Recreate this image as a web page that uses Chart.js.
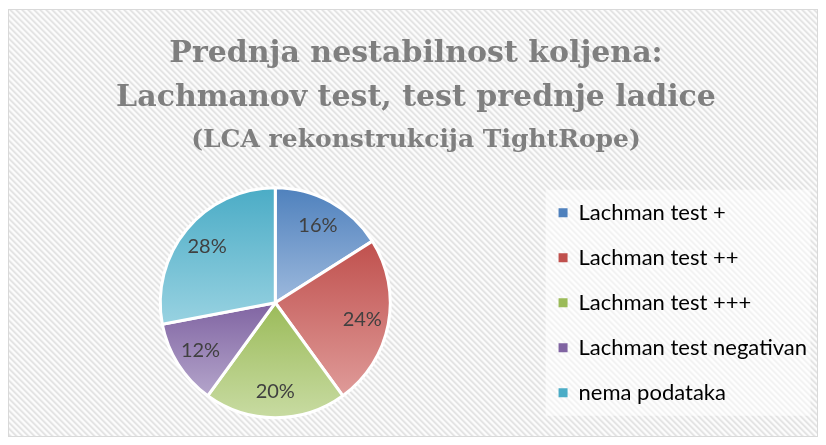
<!DOCTYPE html>
<html lang="hr">
<head>
<meta charset="UTF-8">
<title>Prednja nestabilnost koljena</title>
<script src="https://cdn.jsdelivr.net/npm/chart.js"></script>
<style>
  html, body { margin: 0; padding: 0; background: #fff; }
  .wrap { width: 826px; height: 445px; position: relative; }
</style>
</head>
<body>
<div class="wrap"><canvas id="pie"></canvas></div>
<script>
const labels = ['Lachman test +', 'Lachman test ++', 'Lachman test +++', 'Lachman test negativan', 'nema podataka'];
const percents = [16, 24, 20, 12, 28];
const titleLines = ['Prednja nestabilnost koljena:', 'Lachmanov test, test prednje ladice'];
const subtitleText = '(LCA rekonstrukcija TightRope)';

// Excel-like colours: darker at the top of a slice, lighter at the bottom
const topColors = ['#4f81bd', '#c0504d', '#9bbb59', '#8064a2', '#4bacc6'];
const bottomColors = ['#9db9dd', '#df9b99', '#c8dba2', '#b4a5cb', '#98d2e1'];

const PIE_RADIUS = 115;
const TEXT_FONT = 'Lato, "Open Sans", sans-serif';
const TITLE_FONT = '"DejaVu Serif", serif';

function sliceGradient(ctx) {
    const chart = ctx.chart;
    const area = chart.chartArea;
    const i = ctx.dataIndex;
    if (!area) return topColors[i];
    const cx = (area.left + area.right) / 2;
    const cy = (area.top + area.bottom) / 2;
    const total = percents.reduce((a, b) => a + b, 0);
    let start = 0;
    for (let k = 0; k < i; k++) start += percents[k];
    const a0 = start / total * 2 * Math.PI;
    const a1 = (start + percents[i]) / total * 2 * Math.PI;
    const ys = [cy, cy - PIE_RADIUS * Math.cos(a0), cy - PIE_RADIUS * Math.cos(a1)];
    if (a0 <= 0 || a1 >= 2 * Math.PI - 1e-6) ys.push(cy - PIE_RADIUS);
    if (a0 <= Math.PI && a1 >= Math.PI) ys.push(cy + PIE_RADIUS);
    const g = chart.ctx.createLinearGradient(0, Math.min(...ys), 0, Math.max(...ys));
    g.addColorStop(0, topColors[i]);
    g.addColorStop(1, bottomColors[i]);
    return g;
}

function makeHatch() {
    const n = 6;
    const p = document.createElement('canvas');
    p.width = n; p.height = n;
    const c = p.getContext('2d');
    const img = c.createImageData(n, n);
    const shades = [226, 231, 243, 252, 252, 240];
    for (let y = 0; y < n; y++) {
        for (let x = 0; x < n; x++) {
            const d = ((x - y) % n + n) % n;
            const o = (y * n + x) * 4;
            img.data[o] = img.data[o + 1] = img.data[o + 2] = shades[d];
            img.data[o + 3] = 255;
        }
    }
    c.putImageData(img, 0, 0);
    return p;
}

const backdrop = {
    id: 'backdrop',
    beforeDraw(chart) {
        const c = chart.ctx;
        c.save();
        c.fillStyle = '#ffffff';
        c.fillRect(0, 0, chart.width, chart.height);
        c.fillStyle = c.createPattern(makeHatch(), 'repeat');
        c.fillRect(8, 9, chart.width - 17, chart.height - 18);
        c.strokeStyle = '#d9d9d9';
        c.lineWidth = 1;
        c.strokeRect(8.5, 9.5, chart.width - 17, chart.height - 18);
        // soft white panel behind the legend
        const lg = chart.legend;
        const midY = (chart.chartArea.top + chart.chartArea.bottom) / 2;
        c.fillStyle = 'rgba(255,255,255,0.55)';
        c.fillRect(lg.left + 10, midY - 113, 265, 226);
        c.restore();
    }
};

const sliceLabels = {
    id: 'sliceLabels',
    afterDatasetsDraw(chart) {
        const c = chart.ctx;
        const meta = chart.getDatasetMeta(0);
        c.save();
        c.font = '20px ' + TEXT_FONT;
        c.fillStyle = '#404040';
        c.textAlign = 'center';
        c.textBaseline = 'middle';
        meta.data.forEach((arc, i) => {
            const mid = (arc.startAngle + arc.endAngle) / 2;
            const d = arc.outerRadius * 0.77;
            c.fillText(percents[i] + '%', arc.x + d * Math.cos(mid), arc.y + d * Math.sin(mid));
        });
        c.restore();
    }
};

new Chart(document.getElementById('pie'), {
    type: 'pie',
    data: {
        labels: labels,
        datasets: [{
            data: percents,
            backgroundColor: sliceGradient,
            borderColor: '#ffffff',
            borderWidth: 3
        }]
    },
    options: {
        responsive: true,
        maintainAspectRatio: false,
        animation: false,
        radius: PIE_RADIUS,
        layout: { padding: { left: 15, right: 9, top: 10, bottom: 9 } },
        plugins: {
            title: {
                display: true,
                text: titleLines,
                color: '#7f7f7f',
                font: { family: TITLE_FONT, size: 30, weight: 'bold', lineHeight: 44 / 30 },
                padding: { top: 22, bottom: 4 }
            },
            subtitle: {
                display: true,
                text: subtitleText,
                color: '#7f7f7f',
                font: { family: TITLE_FONT, size: 25, weight: 'bold', lineHeight: 1.3 },
                padding: { top: 0, bottom: 13 }
            },
            legend: {
                position: 'right',
                fullSize: false,
                labels: {
                    boxWidth: 9,
                    boxHeight: 9,
                    padding: 23,
                    color: '#595959',
                    font: { family: TEXT_FONT, size: 22 },
                    generateLabels: () => labels.map((t, i) => ({
                        text: t,
                        fillStyle: topColors[i],
                        strokeStyle: bottomColors[i],
                        lineWidth: 0,
                        hidden: false,
                        index: i
                    }))
                }
            },
            tooltip: { enabled: false }
        }
    },
    plugins: [backdrop, sliceLabels]
});
</script>
</body>
</html>
